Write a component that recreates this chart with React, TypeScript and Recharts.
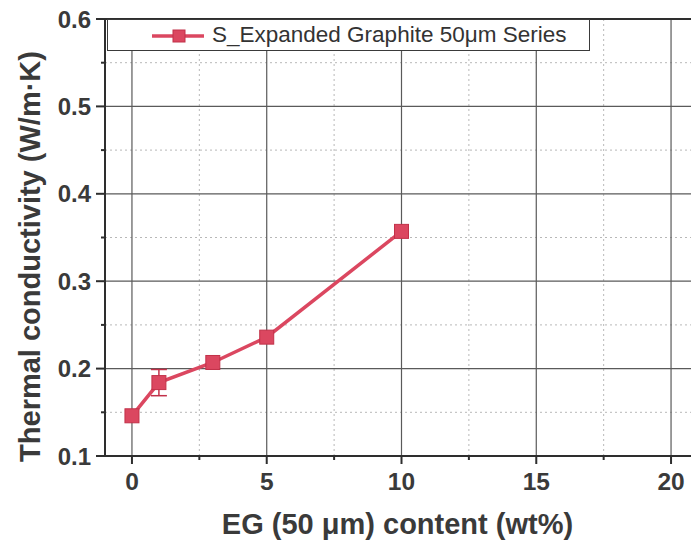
import React from "react";
import { LineChart, Line, XAxis, YAxis, ReferenceLine, ErrorBar, Legend } from "recharts";

// EG content (wt%) vs thermal conductivity (W/m·K)
const egContent = [0, 1, 3, 5, 10];
const conductivity = [0.146, 0.184, 0.207, 0.236, 0.357];
const conductivityErr = [0, 0.015, 0, 0, 0];

const xMajorTicks = [0, 5, 10, 15, 20];
const xMinorTicks = [2.5, 7.5, 12.5, 17.5];
const yMajorTicks = [0.1, 0.2, 0.3, 0.4, 0.5, 0.6];
const yMinorTicks = [0.15, 0.25, 0.35, 0.45, 0.55];

const seriesName = "S_Expanded Graphite 50μm Series";

const data = egContent.map((x, i) => ({ x, y: conductivity[i], err: conductivityErr[i] }));

const FONT = "'Liberation Sans', Arial, sans-serif";
const AXIS = "#2e2e2e";
const TEXT = "#3a3a3a";
const RED = "#db4760";
const RED_DARK = "#c23149";

const XTick = (props: any) => {
  const { x, y, payload } = props;
  const major = xMajorTicks.includes(payload.value);
  return (
    <g>
      <line x1={x} x2={x} y1={y} y2={y + (major ? 8 : 4)} stroke={AXIS} strokeWidth={2} />
      {major && (
        <text x={x} y={y + 34} textAnchor="middle" fontFamily={FONT} fontWeight="bold" fontSize={24.5} fill={TEXT}>
          {payload.value}
        </text>
      )}
    </g>
  );
};

const YTick = (props: any) => {
  const { x, y, payload } = props;
  const major = yMajorTicks.includes(payload.value);
  return (
    <g>
      <line x1={x} x2={x - (major ? 9 : 4)} y1={y} y2={y} stroke={AXIS} strokeWidth={2} />
      {major && (
        <text x={x - 14} y={y + 8.5} textAnchor="end" fontFamily={FONT} fontWeight="bold" fontSize={24} fill={TEXT}>
          {payload.value.toFixed(1)}
        </text>
      )}
    </g>
  );
};

const SquareDot = (props: any) => {
  const { cx, cy, index } = props;
  if (cx == null || cy == null) return <g key={index} />;
  return <rect key={index} x={cx - 7} y={cy - 7} width={14} height={14} fill={RED} stroke={RED_DARK} strokeWidth={1} />;
};

const LegendBox = () => (
  <div
    style={{
      width: 483,
      height: 32,
      boxSizing: "border-box",
      background: "#fff",
      border: "1.5px solid #3a3a3a",
      display: "flex",
      alignItems: "center",
      fontFamily: FONT,
      fontSize: 22.5,
      color: "#333",
    }}
  >
    <svg width={102} height={28} style={{ flex: "none" }}>
      <line x1={44} x2={96} y1={15} y2={15} stroke={RED} strokeWidth={3.5} />
      <rect x={65} y={9} width={12} height={12} fill={RED} stroke={RED_DARK} strokeWidth={1} />
    </svg>
    <span style={{ marginLeft: 2 }}>{seriesName}</span>
  </div>
);

export default function App() {
  return (
    <div style={{ position: "absolute", left: 0, top: 0, width: 691, height: 545, overflow: "hidden", background: "#fff" }}>
      <LineChart width={706} height={545} data={data} margin={{ top: 19, right: 8, left: 0, bottom: 0 }}>
        <XAxis
          dataKey="x"
          type="number"
          domain={[-1, 21]}
          ticks={[...xMajorTicks, ...xMinorTicks].sort((a, b) => a - b)}
          interval={0}
          allowDataOverflow
          height={89}
          tickSize={0}
          tickMargin={0}
          tickLine={false}
          tick={<XTick />}
          axisLine={{ stroke: AXIS, strokeWidth: 2 }}
          label={{
            value: "EG (50 μm) content (wt%)",
            position: "insideBottom",
            offset: 11,
            dx: -4,
            style: { fontFamily: FONT, fontWeight: "bold", fontSize: 29, fill: TEXT },
          }}
        />
        <YAxis
          type="number"
          domain={[0.1, 0.6]}
          ticks={[...yMajorTicks, ...yMinorTicks].sort((a, b) => a - b)}
          interval={0}
          allowDataOverflow
          width={105}
          tickSize={0}
          tickMargin={0}
          tickLine={false}
          tick={<YTick />}
          axisLine={{ stroke: AXIS, strokeWidth: 2 }}
          label={{
            value: "Thermal conductivity (W/m·K)",
            position: "center",
            angle: -90,
            dx: -23,
            dy: 19,
            style: { fontFamily: FONT, fontWeight: "bold", fontSize: 29, fill: TEXT, textAnchor: "middle" },
          }}
        />
        {xMinorTicks.map((v) => (
          <ReferenceLine key={"xm" + v} x={v} stroke="#b8b8b8" strokeDasharray="2 3" strokeWidth={1} />
        ))}
        {yMinorTicks.map((v) => (
          <ReferenceLine key={"ym" + v} y={v} stroke="#b8b8b8" strokeDasharray="2 3" strokeWidth={1} />
        ))}
        {xMajorTicks.map((v) => (
          <ReferenceLine key={"xM" + v} x={v} stroke="#5a5a5a" strokeWidth={1.2} />
        ))}
        {yMajorTicks.slice(1, -1).map((v) => (
          <ReferenceLine key={"yM" + v} y={v} stroke="#5a5a5a" strokeWidth={1.2} />
        ))}
        <ReferenceLine y={0.6} stroke={AXIS} strokeWidth={2} />
        <ReferenceLine x={21} stroke={AXIS} strokeWidth={2} />
        <Legend
          verticalAlign="middle"
          align="center"
          layout="horizontal"
          wrapperStyle={{ left: 107, top: 19, width: 483, height: 32 }}
          content={() => <LegendBox />}
        />
        <Line
          dataKey="y"
          name={seriesName}
          stroke={RED}
          strokeWidth={3.5}
          dot={SquareDot}
          isAnimationActive={false}
        >
          <ErrorBar dataKey="err" width={8} stroke={RED_DARK} strokeWidth={1.5} direction="y" />
        </Line>
      </LineChart>
    </div>
  );
}
